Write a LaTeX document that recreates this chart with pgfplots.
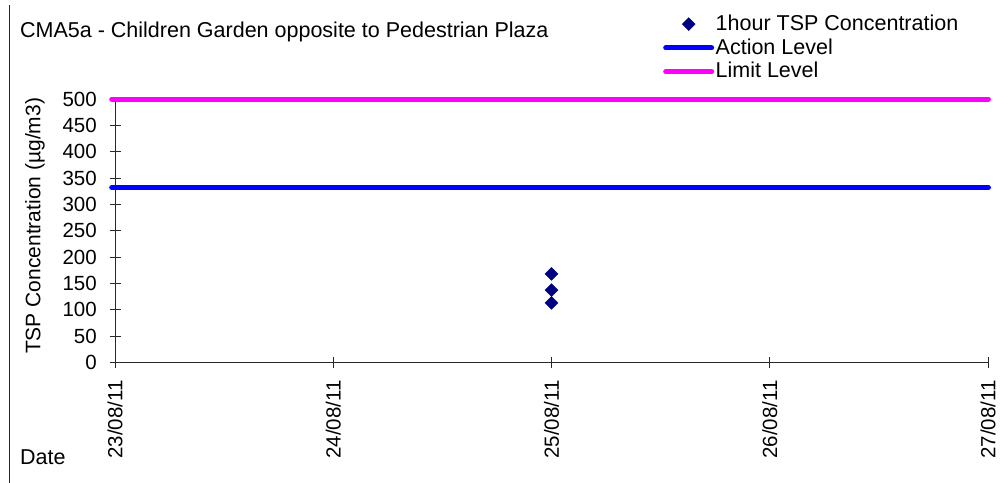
\documentclass[border=0pt]{standalone}
\usepackage{pgfplots}
\pgfplotsset{compat=1.18}
\usepackage{fontspec}
\setmainfont{Liberation Sans}
\definecolor{navy}{RGB}{0,0,128}
\definecolor{actblue}{RGB}{0,0,255}
\definecolor{limmag}{RGB}{255,0,255}
\definecolor{axgray}{RGB}{40,40,40}
\pgfplotsset{
  lineleg/.style={legend image code/.code={\draw[##1] (0bp,0bp) -- (46bp,0bp);}},
  markleg/.style={legend image code/.code={\draw[##1] plot coordinates {(23bp,0bp)};}},
}
\begin{document}
\fontsize{21.5bp}{25bp}\selectfont
\begin{tikzpicture}
\path[use as bounding box] (0,0) rectangle (1008bp,-483bp);
\draw[line width=1bp, axgray] (9bp,-5bp) -- (9bp,-483bp);
\node[anchor=west, inner sep=0pt] at (20bp,-32bp) {CMA5a - Children Garden opposite to Pedestrian Plaza};
\node[anchor=west, inner sep=0pt] at (20bp,-457bp) {Date};
\begin{axis}[
  at={(115bp,-362.3bp)}, anchor=south west,
  scale only axis, width=873bp, height=263.3bp,
  xmin=0, xmax=4, ymin=0, ymax=500,
  axis x line=bottom, axis y line=left,
  axis line style={-, line width=0.9bp, axgray},
  xtick={0,1,2,3,4},
  xticklabels={23/08/11,24/08/11,25/08/11,26/08/11,27/08/11},
  ytick={0,50,...,500},
  tick align=center, major tick length=11bp,
  tick style={line width=0.9bp, axgray},
  xticklabel style={yshift=-12.5bp, rotate=90, anchor=east, inner sep=0pt},
  yticklabel style={anchor=east, inner sep=0pt, xshift=-12.5bp},
  ticklabel style={font=\fontsize{20.5bp}{24bp}\selectfont},
  /pgf/number format/assume math mode=true,
  ylabel={TSP Concentration (µg/m3)},
  every axis y label/.style={at={(axis description cs:-0.0916,0.518)}, rotate=90, anchor=center, font=\fontsize{21bp}{25bp}\selectfont},
  clip=false,
  legend style={at={(axis description cs:0.6277,1.3266)}, anchor=north west, draw=none, fill=none, inner sep=0pt, row sep=2bp,
    font=\fontsize{21.5bp}{25bp}\selectfont,
    nodes={inner sep=1.5bp}},
  legend cell align=left,
]
\addplot[only marks, mark=square*, mark size=4.6bp, mark options={rotate=45, fill=navy, draw=navy}, markleg]
  coordinates {(2,168) (2,137) (2,113)};
\addlegendentry{1hour TSP Concentration}
\addplot[actblue, line width=5bp, line cap=round, lineleg]
  coordinates {(-0.015,332) (4.002,332)};
\addlegendentry{Action Level}
\addplot[limmag, line width=5bp, line cap=round, lineleg]
  coordinates {(-0.015,500) (4.002,500)};
\addlegendentry{Limit Level}
\end{axis}
\end{tikzpicture}
\end{document}
